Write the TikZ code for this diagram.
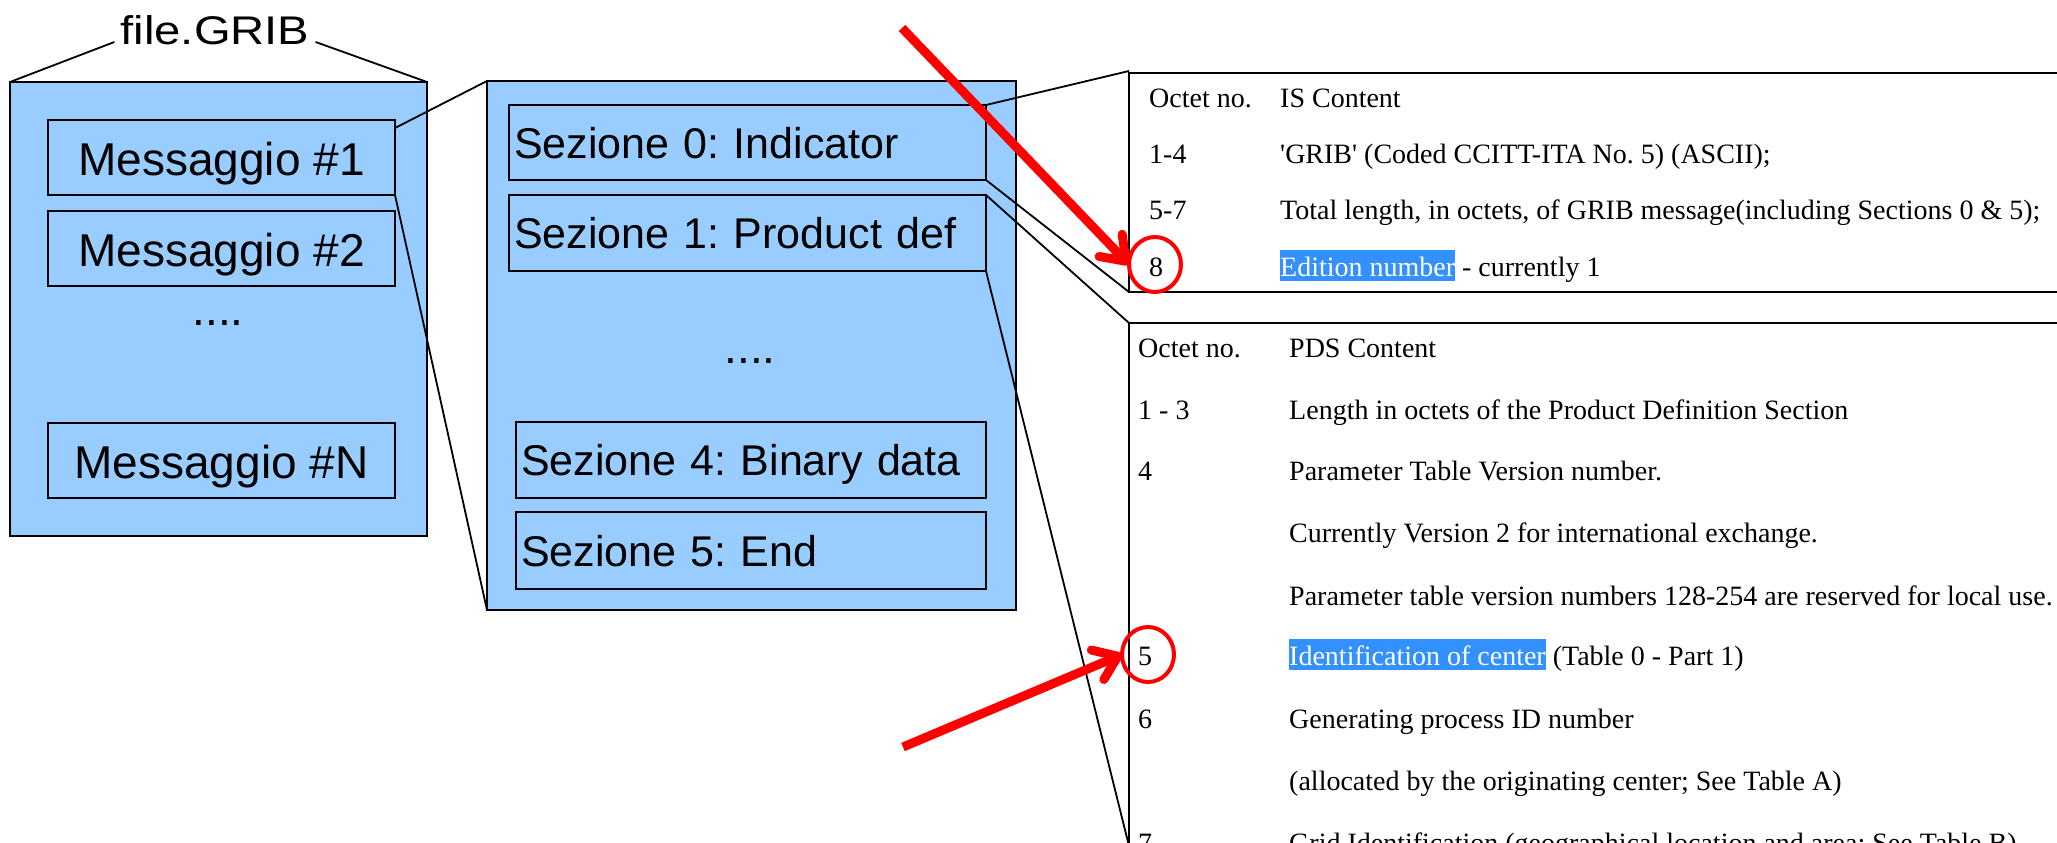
\documentclass[tikz,border=0pt]{standalone}
\usepackage{fontspec}
\usepackage{graphicx}
\setmainfont{Liberation Serif}
\newfontfamily\boxfont{Liberation Sans}
\usetikzlibrary{arrows.meta,shapes.geometric}
\definecolor{boxblue}{RGB}{153,204,255}
\definecolor{selblue}{RGB}{51,144,255}
% text shown as selected in the specification tables
\newcommand\selmark[1]{{\setlength{\fboxsep}{0pt}\colorbox{selblue}{\color{white}\vrule height 26pt depth 5pt width 0pt #1}}}
\frenchspacing
\begin{document}
\begin{tikzpicture}[x=1pt,y=-1pt,
  outerbox/.style={draw, line width=2.5pt, fill=boxblue, inner sep=0pt, outer sep=0pt},
  msgbox/.style={draw, line width=2pt, fill=boxblue, inner sep=0pt, outer sep=0pt,
    minimum width=347pt, minimum height=75pt,
    font=\boxfont\fontsize{46}{50}\selectfont, text height=35pt, text depth=0pt},
  secbox/.style={draw, line width=2pt, fill=boxblue, inner xsep=5pt, inner ysep=0pt, outer sep=0pt,
    align=left, font=\boxfont\fontsize{43}{48}\selectfont, text height=31pt, text depth=0pt},
  dots/.style={anchor=base, inner sep=0pt, font=\boxfont\fontsize{46}{50}\selectfont},
  conn/.style={line width=1.8pt},
  spec/.style={draw, line width=2.5pt, fill=white, inner sep=0pt, outer sep=0pt, anchor=north west},
  cell/.style={font=\fontsize{28}{34}\selectfont, anchor=base west, inner sep=0pt},
  ringmark/.style={ellipse, draw=red, line width=4pt, inner sep=0pt, outer sep=0pt,
    minimum width=52pt, minimum height=55pt},
  pointer/.style={red, line width=9pt, -{Straight Barb[length=22pt, width=32pt, round]}}]

\useasboundingbox (0,0) rectangle (2057,843);
\clip (0,0) rectangle (2057,843);

% the GRIB file and its messages
\node[outerbox, minimum width=417pt, minimum height=454pt] (file) at (218.5,309) {};
\node[anchor=base, inner sep=0pt, font=\boxfont\fontsize{40}{44}\selectfont] (grib) at (215,45)
  {\scalebox{1.18}[1]{file.GRIB}};
\node[msgbox] (m1) at (221.5,157.5) {Messaggio \#1};
\node[msgbox] (m2) at (221.5,248.5) {Messaggio \#2};
\node[dots] (fdots) at (218,325) {....};
\node[msgbox] (mN) at (221.5,460.5) {Messaggio \#N};

% the sections of one message
\node[outerbox, minimum width=529pt, minimum height=529pt] (sec) at (751.5,345.5) {};
\node[secbox, minimum width=477pt, minimum height=75pt, text width=467pt] (s0) at (747.5,142.5) {Sezione 0: Indicator};
\node[secbox, minimum width=477pt, minimum height=76pt, text width=467pt] (s1) at (747.5,233) {Sezione 1: Product def};
\node[dots] (sdots) at (750,363) {....};
\node[secbox, minimum width=470pt, minimum height=76pt, text width=460pt] (s4) at (751,460) {Sezione 4: Binary data};
\node[secbox, minimum width=470pt, minimum height=77pt, text width=460pt] (s5) at (751,550.5) {Sezione 5: End};

% specification tables
\node[spec, minimum width=941pt, minimum height=219pt] (is) at (1129,73) {};
\node[spec, minimum width=941pt, minimum height=523pt] (pds) at (1129,323) {};

% zoom lines
\draw[conn] ([xshift=-6pt,yshift=3pt]grib.base west) -- (file.north west);
\draw[conn] ([xshift=6pt,yshift=3pt]grib.base east) -- (file.north east);
\draw[conn] ([yshift=-8pt]m1.north east) -- (sec.north west);
\draw[conn] (m1.south east) -- (sec.south west);
\draw[conn] (s0.north east) -- ([yshift=2pt]is.north west);
\draw[conn] (s0.south east) -- (is.south west);
\draw[conn] (s1.north east) -- (pds.north west);
\draw[conn] (s1.south east) -- (pds.south west);

% Indicator Section
\node[cell] (ish1) at (1149,107.5) {Octet no.};
\node[cell] (ish2) at (1280,107.5) {IS Content};
\node[cell] (isa1) at (1149,163) {1-4};
\node[cell] (isa2) at (1280,163) {\textquotesingle GRIB\textquotesingle{} (Coded CCITT-ITA No. 5) (ASCII);};
\node[cell] (isb1) at (1149,219) {5-7};
\node[cell] (isb2) at (1280,219) {Total length, in octets, of GRIB message(including Sections 0 \& 5);};
\node[cell] (isc1) at (1149,276) {8};
\node[cell] (isc2) at (1280,276) {\selmark{Edition number} - currently 1};

% Product Definition Section
\node[cell] (pdh1) at (1138,357) {Octet no.};
\node[cell] (pdh2) at (1289,357) {PDS Content};
\node[cell] (pda1) at (1138,419) {1 - 3};
\node[cell] (pda2) at (1289,419) {Length in octets of the Product Definition Section};
\node[cell] (pdb1) at (1138,480) {4};
\node[cell] (pdb2) at (1289,480) {Parameter Table Version number.};
\node[cell] (pdb3) at (1289,542) {Currently Version 2 for international exchange.};
\node[cell] (pdb4) at (1289,605) {Parameter table version numbers 128-254 are reserved for local use.};
\node[cell] (pdc1) at (1138,665) {5};
\node[cell] (pdc2) at (1289,665) {\selmark{Identification of center} (Table 0 - Part 1)};
\node[cell] (pdd1) at (1138,728) {6};
\node[cell] (pdd2) at (1289,728) {Generating process ID number};
\node[cell] (pdd3) at (1289,790) {(allocated by the originating center; See Table A)};
\node[cell] (pde1) at (1138,852) {7};
\node[cell] (pde2) at (1289,852) {Grid Identification (geographical location and area; See Table B)};

% red marks
\node[ringmark] (r8) at (1155,264.5) {};
\node[ringmark] (r5) at (1148,654.5) {};
\coordinate (p8) at (902,28);
\coordinate (p5) at (903,747);
\draw[pointer] (p8) -- (r8.west);
\draw[pointer] (p5) -- (r5.west);
\end{tikzpicture}
\end{document}
